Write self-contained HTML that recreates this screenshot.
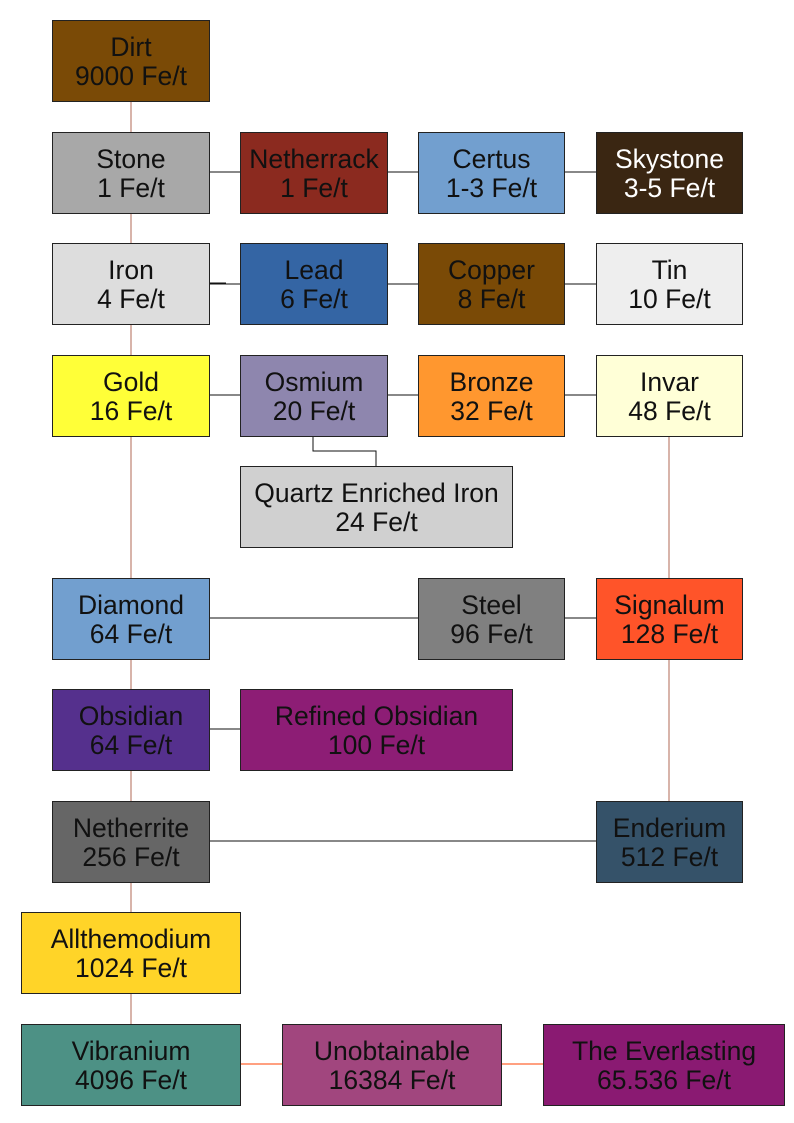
<!DOCTYPE html>
<html><head><meta charset="utf-8"><style>
body{margin:0;background:#fff;width:794px;height:1123px;position:relative;overflow:hidden;font-family:"Liberation Sans",sans-serif}
.b{position:absolute;box-sizing:border-box;border:1px solid #222;display:flex;flex-direction:column;justify-content:center;align-items:center;font-size:26.5px;line-height:29px;color:#111;text-align:center;white-space:nowrap;padding-top:2px}
svg{position:absolute;left:0;top:0}
</style></head><body>
<svg width="794" height="1123">
<g stroke="#b06a55" stroke-width="1" fill="none">
<line x1="131" y1="101" x2="131" y2="132"/>
<line x1="131" y1="213" x2="131" y2="243"/>
<line x1="131" y1="324" x2="131" y2="355"/>
<line x1="131" y1="436" x2="131" y2="578"/>
<line x1="131" y1="659" x2="131" y2="689"/>
<line x1="131" y1="770" x2="131" y2="801"/>
<line x1="131" y1="882" x2="131" y2="912"/>
<line x1="131" y1="993" x2="131" y2="1024"/>
<line x1="669" y1="436" x2="669" y2="578"/>
<line x1="669" y1="659" x2="669" y2="801"/>
</g>
<g stroke="#111" stroke-width="1" fill="none">
<line x1="209" y1="172" x2="240" y2="172"/>
<line x1="387" y1="172" x2="418" y2="172"/>
<line x1="564" y1="172" x2="596" y2="172"/>
<line x1="209" y1="284" x2="240" y2="284"/>
<line x1="209" y1="283" x2="226" y2="283"/>
<line x1="387" y1="284" x2="418" y2="284"/>
<line x1="564" y1="284" x2="596" y2="284"/>
<line x1="209" y1="395" x2="240" y2="395"/>
<line x1="387" y1="395" x2="418" y2="395"/>
<line x1="564" y1="395" x2="596" y2="395"/>
<polyline points="313,436 313,451 376,451 376,466"/>
<line x1="209" y1="618" x2="418" y2="618"/>
<line x1="564" y1="618" x2="596" y2="618"/>
<line x1="209" y1="729" x2="240" y2="729"/>
<line x1="209" y1="841" x2="596" y2="841"/>
</g>
<g stroke="#ff4000" stroke-width="1">
<line x1="240" y1="1064" x2="282" y2="1064"/>
<line x1="501" y1="1064" x2="543" y2="1064"/>
</g>
</svg>
<div class="b" style="left:52px;top:20px;width:158px;height:82px;background:#7a4a06">Dirt<br>9000 Fe/t</div>
<div class="b" style="left:52px;top:132px;width:158px;height:82px;background:#a8a8a8">Stone<br>1 Fe/t</div>
<div class="b" style="left:240px;top:132px;width:148px;height:82px;background:#8b2a1f">Netherrack<br>1 Fe/t</div>
<div class="b" style="left:418px;top:132px;width:147px;height:82px;background:#729fcf">Certus<br>1-3 Fe/t</div>
<div class="b" style="left:596px;top:132px;width:147px;height:82px;background:#3a2612;color:#fff">Skystone<br>3-5 Fe/t</div>
<div class="b" style="left:52px;top:243px;width:158px;height:82px;background:#dddddd">Iron<br>4 Fe/t</div>
<div class="b" style="left:240px;top:243px;width:148px;height:82px;background:#3465a4">Lead<br>6 Fe/t</div>
<div class="b" style="left:418px;top:243px;width:147px;height:82px;background:#7a4a06">Copper<br>8 Fe/t</div>
<div class="b" style="left:596px;top:243px;width:147px;height:82px;background:#eeeeee">Tin<br>10 Fe/t</div>
<div class="b" style="left:52px;top:355px;width:158px;height:82px;background:#ffff38">Gold<br>16 Fe/t</div>
<div class="b" style="left:240px;top:355px;width:148px;height:82px;background:#8e86ae">Osmium<br>20 Fe/t</div>
<div class="b" style="left:418px;top:355px;width:147px;height:82px;background:#ff972f">Bronze<br>32 Fe/t</div>
<div class="b" style="left:596px;top:355px;width:147px;height:82px;background:#ffffd7">Invar<br>48 Fe/t</div>
<div class="b" style="left:240px;top:466px;width:273px;height:82px;background:#d0d0d0">Quartz Enriched Iron<br>24 Fe/t</div>
<div class="b" style="left:52px;top:578px;width:158px;height:82px;background:#729fcf">Diamond<br>64 Fe/t</div>
<div class="b" style="left:418px;top:578px;width:147px;height:82px;background:#808080">Steel<br>96 Fe/t</div>
<div class="b" style="left:596px;top:578px;width:147px;height:82px;background:#ff5429">Signalum<br>128 Fe/t</div>
<div class="b" style="left:52px;top:689px;width:158px;height:82px;background:#55308d">Obsidian<br>64 Fe/t</div>
<div class="b" style="left:240px;top:689px;width:273px;height:82px;background:#8d1d75">Refined Obsidian<br>100 Fe/t</div>
<div class="b" style="left:52px;top:801px;width:158px;height:82px;background:#666666">Netherrite<br>256 Fe/t</div>
<div class="b" style="left:596px;top:801px;width:147px;height:82px;background:#355269">Enderium<br>512 Fe/t</div>
<div class="b" style="left:21px;top:912px;width:220px;height:82px;background:#ffd428">Allthemodium<br>1024 Fe/t</div>
<div class="b" style="left:21px;top:1024px;width:220px;height:82px;background:#4d9185">Vibranium<br>4096 Fe/t</div>
<div class="b" style="left:282px;top:1024px;width:220px;height:82px;background:#a1467e">Unobtainable<br>16384 Fe/t</div>
<div class="b" style="left:543px;top:1024px;width:242px;height:82px;background:#8a1a72">The Everlasting<br>65.536 Fe/t</div>
</body></html>
